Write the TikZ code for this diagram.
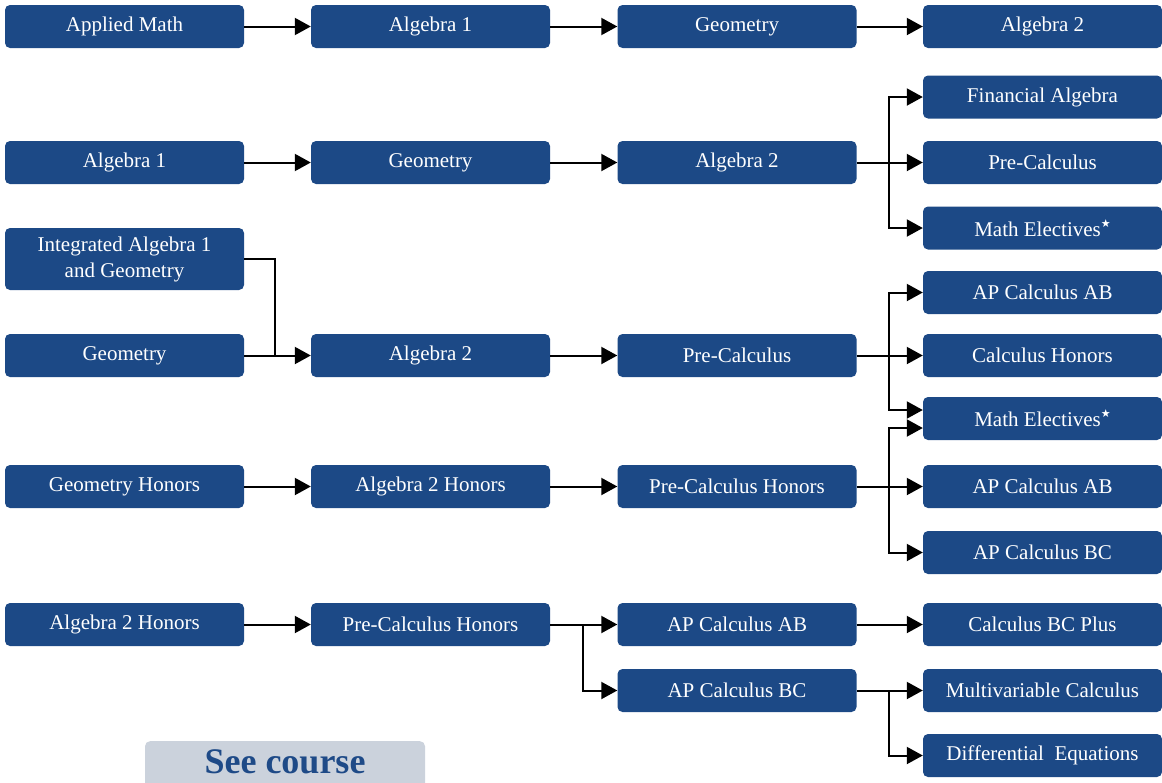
\documentclass[tikz,border=0pt]{standalone}
\usepackage{fontspec}
\setmainfont{Liberation Serif}
\newfontfamily\symfont{DejaVu Sans}
\usetikzlibrary{arrows.meta,calc}
\definecolor{boxblue}{RGB}{28,73,134}
\definecolor{btngrey}{RGB}{203,210,220}
\definecolor{btntext}{RGB}{30,74,135}
\newcommand{\mystar}{\raisebox{0.42em}{\symfont\fontsize{11}{11}\selectfont ★}}
\begin{document}
\begin{tikzpicture}[x=1pt,y=-1pt,
  course/.style={fill=boxblue,text=white,rounded corners=5pt,minimum width=239pt,minimum height=43pt,inner sep=0pt,font=\fontsize{21}{24}\selectfont,align=center},
  link/.style={line width=2pt,draw=black},
  arr/.style={link,-{Triangle[length=16pt,width=17pt]}}]
\useasboundingbox (0,0) rectangle (1162,782);
% Row 1
\node[course] (a1) at (124.5,26.5) {Applied Math};
\node[course] (a2) at (430.5,26.5) {Algebra 1};
\node[course] (a3) at (737,26.5) {Geometry};
\node[course] (a4) at (1042.5,26.5) {Algebra 2};
% Row 2
\node[course] (b1) at (124.5,162.5) {Algebra 1};
\node[course] (b2) at (430.5,162.5) {Geometry};
\node[course] (b3) at (737,162.5) {Algebra 2};
\node[course] (b4) at (1042.5,97) {Financial Algebra};
\node[course] (b5) at (1042.5,162.5) {Pre-Calculus};
\node[course] (b6) at (1042.5,228) {Math Electives\mystar};
% Row 3
\node[course,minimum height=62pt,font=\fontsize{21}{26}\selectfont] (c1) at (124.5,259) {Integrated Algebra 1\\and Geometry};
\node[course] (c2) at (124.5,355.5) {Geometry};
\node[course] (c3) at (430.5,355.5) {Algebra 2};
\node[course] (c4) at (737,355.5) {Pre-Calculus};
\node[course] (c5) at (1042.5,292.5) {AP Calculus AB};
\node[course] (c6) at (1042.5,355.5) {Calculus Honors};
\node[course] (c7) at (1042.5,418.5) {Math Electives\mystar};
% Row 4
\node[course] (d1) at (124.5,486.5) {Geometry Honors};
\node[course] (d2) at (430.5,486.5) {Algebra 2 Honors};
\node[course] (d3) at (737,486.5) {Pre-Calculus Honors};
\node[course] (d4) at (1042.5,486.5) {AP Calculus AB};
\node[course] (d5) at (1042.5,552.5) {AP Calculus BC};
% Row 5
\node[course] (e1) at (124.5,624.5) {Algebra 2 Honors};
\node[course] (e2) at (430.5,624.5) {Pre-Calculus Honors};
\node[course] (e3) at (737,624.5) {AP Calculus AB};
\node[course] (e4) at (737,690.5) {AP Calculus BC};
\node[course] (e5) at (1042.5,624.5) {Calculus BC Plus};
\node[course] (e6) at (1042.5,690.5) {Multivariable Calculus};
\node[course] (e7) at (1042.5,755.5) {Differential~ Equations};
% See course button
\node[fill=btngrey,text=btntext,rounded corners=5pt,anchor=north,minimum width=280pt,inner xsep=0pt,inner ysep=8pt,text height=24pt,text depth=20pt,font=\bfseries\fontsize{36}{40}\selectfont] (see) at (285,741) {See course};
% junctions
\coordinate (j2) at (889,162.5);
\coordinate (j3) at (275,355.5);
\coordinate (j4) at (889,355.5);
\coordinate (j5) at (889,486.5);
\coordinate (j6) at (583,624.5);
\coordinate (j7) at (889,690.5);
% connectors
\draw[arr] (a1) -- (a2);
\draw[arr] (a2) -- (a3);
\draw[arr] (a3) -- (a4);
\draw[arr] (b1) -- (b2);
\draw[arr] (b2) -- (b3);
\draw[link] (b3.east) -- (j2);
\draw[arr] (j2) |- (b4.west);
\draw[arr] (j2) -- (b5.west);
\draw[arr] (j2) |- (b6.west);
\draw[link] (c1.east) -| (j3);
\draw[arr] (c2) -- (c3);
\draw[arr] (c3) -- (c4);
\draw[link] (c4.east) -- (j4);
\draw[arr] (j4) |- (c5.west);
\draw[arr] (j4) -- (c6.west);
\draw[arr] (j4) |- ($(c7.west)+(0,-8.5)$);
\draw[arr] (d1) -- (d2);
\draw[arr] (d2) -- (d3);
\draw[link] (d3.east) -- (j5);
\draw[arr] (j5) |- ($(c7.west)+(0,9.5)$);
\draw[arr] (j5) -- (d4.west);
\draw[arr] (j5) |- (d5.west);
\draw[arr] (e1) -- (e2);
\draw[link] (e2.east) -- (j6);
\draw[arr] (j6) -- (e3.west);
\draw[arr] (j6) |- (e4.west);
\draw[arr] (e3) -- (e5);
\draw[link] (e4.east) -- (j7);
\draw[arr] (j7) -- (e6.west);
\draw[arr] (j7) |- (e7.west);
\end{tikzpicture}
\end{document}
